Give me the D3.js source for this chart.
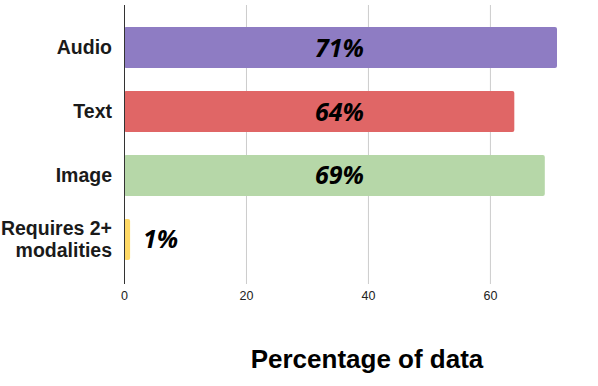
<!DOCTYPE html>
<html>
<head>
<meta charset="utf-8">
<script src="https://cdn.jsdelivr.net/npm/d3@7"></script>
<style>
  body { margin: 0; background: #fff; }
  svg { display: block; }
</style>
</head>
<body>
<svg></svg>
<script>
// chart data
var categories = ['Audio', 'Text', 'Image', 'Requires 2+\nmodalities']
var values = [71, 64, 69, 1]
var valueLabels = ['71%', '64%', '69%', '1%']
var barColors = ['#8e7cc3', '#e06666', '#b6d7a8', '#ffd966']
var tickValues = [0, 20, 40, 60]
var axisTitle = 'Percentage of data'

var width = 598
var height = 386

var svg = d3.select('svg')
svg.attr('width', width).attr('height', height)

var x = d3.scaleLinear()
  .domain([0, 71])
  .range([124, 557])

var y = d3.scaleBand()
  .domain(categories)
  .range([4, 283])
  .padding(0.36)

// gridlines
svg.append('g')
  .attr('class', 'grid')
  .selectAll('line')
  .data(tickValues.slice(1))
  .enter().append('line')
    .attr('x1', function (d) { return x(d) + 0.5 })
    .attr('x2', function (d) { return x(d) + 0.5 })
    .attr('y1', 5)
    .attr('y2', 284)
    .attr('stroke', '#cccccc')
    .attr('stroke-width', 1)

// bars
svg.append('g')
  .attr('class', 'bars')
  .selectAll('rect')
  .data(values)
  .enter().append('rect')
    .attr('x', x(0))
    .attr('y', function (d, i) { return y(categories[i]) })
    .attr('width', function (d) { return x(d) - x(0) })
    .attr('height', y.bandwidth())
    .attr('rx', 2)
    .attr('fill', function (d, i) { return barColors[i] })

// zero line
svg.append('line')
  .attr('x1', x(0) + 0.5)
  .attr('x2', x(0) + 0.5)
  .attr('y1', 5)
  .attr('y2', 284)
  .attr('stroke', '#333333')
  .attr('stroke-width', 1)

// x axis tick labels
var xAxis = d3.axisBottom(x).tickValues(tickValues).tickSize(0).tickPadding(0)
var gx = svg.append('g')
  .attr('transform', 'translate(0,291)')
  .call(xAxis)
gx.select('.domain').remove()
gx.selectAll('text')
  .attr('font-family', '"Liberation Sans", Arial, sans-serif')
  .attr('font-size', 12.5)
  .attr('fill', '#222')

// category labels
var catLabels = svg.append('g')
  .selectAll('text')
  .data(categories)
  .enter().append('text')
    .attr('text-anchor', 'end')
    .attr('font-family', '"Liberation Sans", Arial, sans-serif')
    .attr('font-weight', 'bold')
    .attr('font-size', 19.5)
    .attr('fill', '#1a1a1a')

catLabels.each(function (d) {
  var lines = d.split('\n')
  var cy = y(d) + y.bandwidth() / 2
  var lineH = 22
  var first = cy - (lines.length - 1) * lineH / 2
  d3.select(this).selectAll('tspan')
    .data(lines)
    .enter().append('tspan')
      .attr('x', 112)
      .attr('y', function (l, i) { return first + i * lineH })
      .attr('dy', '0.35em')
      .text(function (l) { return l })
})

// value labels
svg.append('g')
  .selectAll('text')
  .data(values)
  .enter().append('text')
    .attr('x', function (d) { return d > 10 ? x(35.5) - 1 : x(d) + 13 })
    .attr('y', function (d, i) { return y(categories[i]) + y.bandwidth() / 2 })
    .attr('dy', '0.36em')
    .attr('text-anchor', function (d) { return d > 10 ? 'middle' : 'start' })
    .attr('font-family', '"Open Sans", sans-serif')
    .attr('font-style', 'italic')
    .attr('font-weight', 'bold')
    .attr('font-size', 25)
    .attr('fill', '#000')
    .text(function (d, i) { return valueLabels[i] })

// axis title
svg.append('text')
  .attr('x', 367)
  .attr('y', 368)
  .attr('text-anchor', 'middle')
  .attr('font-family', '"Liberation Sans", Arial, sans-serif')
  .attr('font-weight', 'bold')
  .attr('font-size', 26)
  .attr('fill', '#000')
  .text(axisTitle)
</script>
</body>
</html>
